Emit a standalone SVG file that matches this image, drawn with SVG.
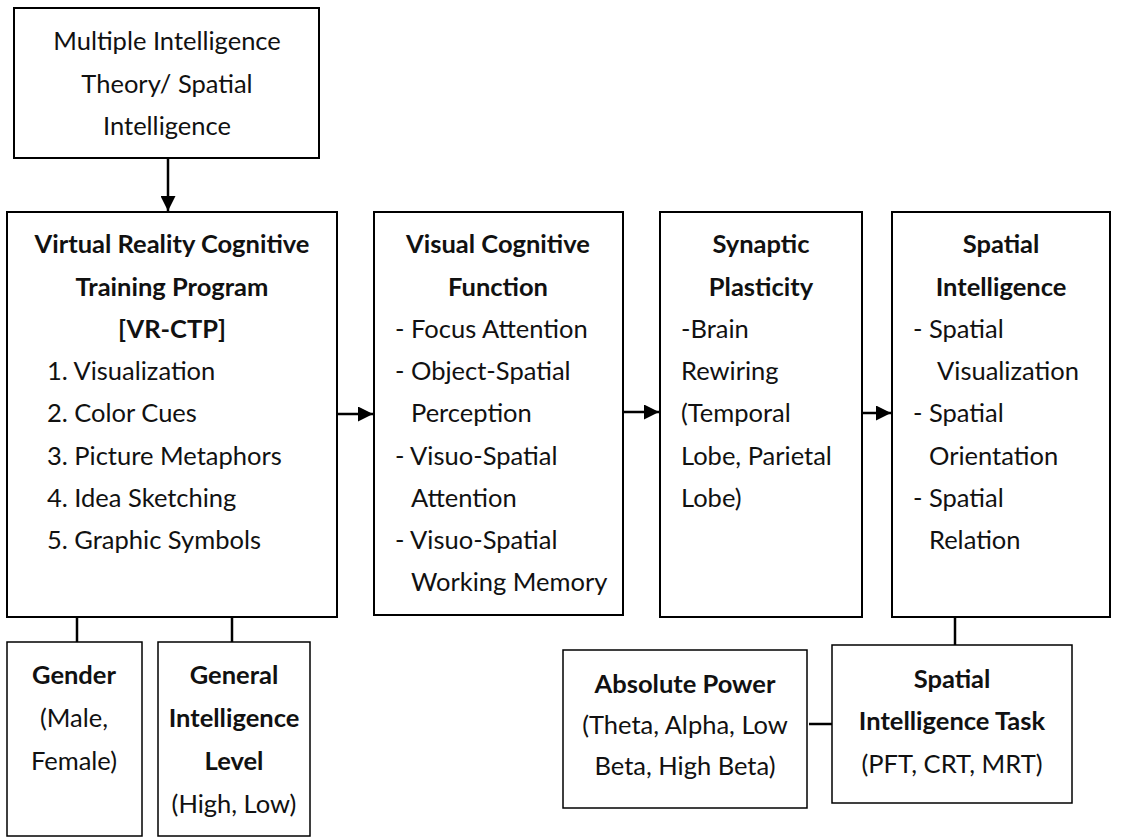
<svg xmlns="http://www.w3.org/2000/svg" width="1125" height="839" viewBox="0 0 1125 839">
<defs>
<marker id="ah" viewBox="0 0 10 10" refX="10" refY="5" markerWidth="6" markerHeight="6" orient="auto" markerUnits="strokeWidth"><path d="M0,0 L10,5 L0,10 z" fill="#000"/></marker>
</defs>
<style>
rect{fill:#fff;stroke:#000;stroke-width:2}
rect.s{stroke-width:1.5}
text{font-family:Lato,"Noto Sans",sans-serif;font-size:25.5px;fill:#111}
.c{text-anchor:middle}
.b{font-weight:bold}
.cn{stroke:#000;stroke-width:2.5;fill:none}
</style>
<rect x="0" y="0" width="1125" height="839" style="fill:#fff;stroke:none"/>
<g id="connectors">
<line class="cn" x1="168" y1="158" x2="168" y2="211" marker-end="url(#ah)"/>
<line class="cn" x1="337" y1="414" x2="373" y2="414" marker-end="url(#ah)"/>
<line class="cn" x1="623" y1="412" x2="659" y2="412" marker-end="url(#ah)"/>
<line class="cn" x1="862" y1="413" x2="891" y2="413" marker-end="url(#ah)"/>
<line class="cn" x1="77" y1="617" x2="77" y2="642"/>
<line class="cn" x1="232" y1="617" x2="232" y2="642"/>
<line class="cn" x1="955" y1="617" x2="955" y2="645"/>
<line class="cn" x1="809" y1="724" x2="832" y2="724"/>
</g>
<g id="theory">
<rect x="14" y="8" width="305" height="150"/>
<text class="c" x="167" y="50">Multiple Intelligence</text>
<text class="c" x="167" y="93">Theory/ Spatial</text>
<text class="c" x="167" y="135">Intelligence</text>
</g>
<g id="vrctp">
<rect x="7" y="212" width="330" height="405"/>
<text class="c b" x="172" y="253">Virtual Reality Cognitive</text>
<text class="c b" x="172" y="296">Training Program</text>
<text class="c b" x="172" y="338">[VR-CTP]</text>
<text x="47" y="380">1. Visualization</text>
<text x="47" y="422">2. Color Cues</text>
<text x="47" y="465">3. Picture Metaphors</text>
<text x="47" y="507">4. Idea Sketching</text>
<text x="47" y="549">5. Graphic Symbols</text>
</g>
<g id="visual">
<rect x="374" y="212" width="249" height="403"/>
<text class="c b" x="498" y="253">Visual Cognitive</text>
<text class="c b" x="498" y="296">Function</text>
<text x="395" y="338">- Focus Attention</text>
<text x="395" y="380">- Object-Spatial</text>
<text x="411" y="422">Perception</text>
<text x="395" y="465">- Visuo-Spatial</text>
<text x="411" y="507">Attention</text>
<text x="395" y="549">- Visuo-Spatial</text>
<text x="411" y="591">Working Memory</text>
</g>
<g id="synaptic">
<rect x="660" y="212" width="202" height="405"/>
<text class="c b" x="761" y="253">Synaptic</text>
<text class="c b" x="761" y="296">Plasticity</text>
<text x="681" y="338">-Brain</text>
<text x="681" y="380">Rewiring</text>
<text x="681" y="422">(Temporal</text>
<text x="681" y="465">Lobe, Parietal</text>
<text x="681" y="507">Lobe)</text>
</g>
<g id="spatial">
<rect x="892" y="212" width="218" height="405"/>
<text class="c b" x="1001" y="253">Spatial</text>
<text class="c b" x="1001" y="296">Intelligence</text>
<text x="913" y="338">- Spatial</text>
<text x="937" y="380">Visualization</text>
<text x="913" y="422">- Spatial</text>
<text x="929" y="465">Orientation</text>
<text x="913" y="507">- Spatial</text>
<text x="929" y="549">Relation</text>
</g>
<g id="gender">
<rect class="s" x="7" y="642" width="135" height="194"/>
<text class="c b" x="74" y="684">Gender</text>
<text class="c" x="74" y="727">(Male,</text>
<text class="c" x="74" y="770">Female)</text>
</g>
<g id="general">
<rect class="s" x="158" y="642" width="152" height="194"/>
<text class="c b" x="234" y="684">General</text>
<text class="c b" x="234" y="727">Intelligence</text>
<text class="c b" x="234" y="770">Level</text>
<text class="c" x="234" y="813">(High, Low)</text>
</g>
<g id="power">
<rect class="s" x="563" y="650" width="244" height="158"/>
<text class="c b" x="685" y="693">Absolute Power</text>
<text class="c" x="685" y="734">(Theta, Alpha, Low</text>
<text class="c" x="685" y="775">Beta, High Beta)</text>
</g>
<g id="task">
<rect class="s" x="832" y="645" width="240" height="158"/>
<text class="c b" x="952" y="688">Spatial</text>
<text class="c b" x="952" y="730">Intelligence Task</text>
<text class="c" x="952" y="773">(PFT, CRT, MRT)</text>
</g>
</svg>
